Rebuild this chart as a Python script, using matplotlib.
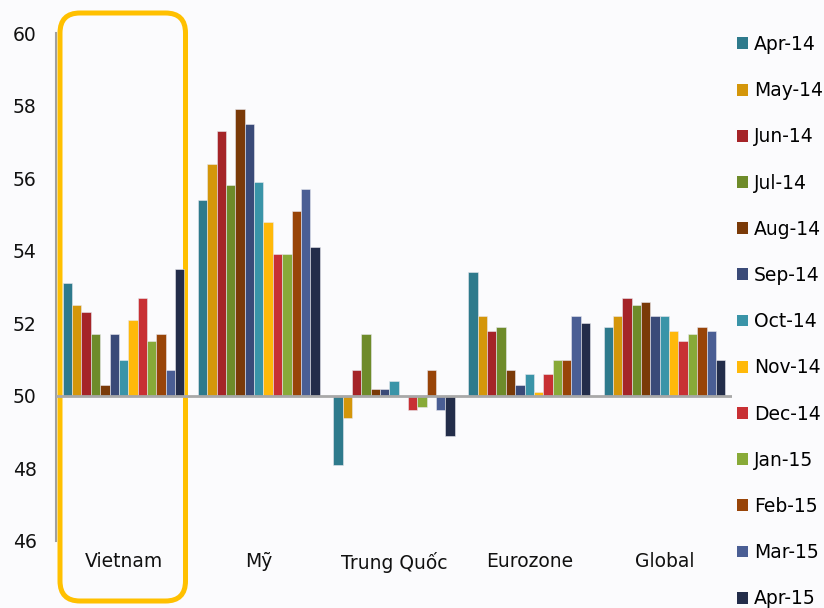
import matplotlib
matplotlib.use("Agg")
import matplotlib.pyplot as plt
from matplotlib.patches import FancyBboxPatch, Patch
import numpy as np

plt.rcParams['font.family'] = ['DejaVu Sans']

regions = ["Vietnam", "Mỹ", "Trung Quốc", "Eurozone", "Global"]
months = ["Apr-14", "May-14", "Jun-14", "Jul-14", "Aug-14", "Sep-14", "Oct-14",
          "Nov-14", "Dec-14", "Jan-15", "Feb-15", "Mar-15", "Apr-15"]

# PMI per region, one list per month
pmi_vietnam = [53.1, 52.5, 52.3, 51.7, 50.3, 51.7, 51.0, 52.1, 52.7, 51.5, 51.7, 50.7, 53.5]
pmi_us = [55.4, 56.4, 57.3, 55.8, 57.9, 57.5, 55.9, 54.8, 53.9, 53.9, 55.1, 55.7, 54.1]
pmi_china = [48.1, 49.4, 50.7, 51.7, 50.2, 50.2, 50.4, 50.0, 49.6, 49.7, 50.7, 49.6, 48.9]
pmi_eurozone = [53.4, 52.2, 51.8, 51.9, 50.7, 50.3, 50.6, 50.1, 50.6, 51.0, 51.0, 52.2, 52.0]
pmi_global = [51.9, 52.2, 52.7, 52.5, 52.6, 52.2, 52.2, 51.8, 51.5, 51.7, 51.9, 51.8, 51.0]

y_ticks = [46, 48, 50, 52, 54, 56, 58, 60]
baseline = 50

colors = ["#2E7A8C", "#D4960A", "#A52428", "#6E8B2A", "#7A3A08", "#3A4A78",
          "#3A94A8", "#FFB90A", "#C83034", "#88AA38", "#984408", "#4A5E94",
          "#232D4A"]

W, H = 824, 608
bg = "#FBFBFD"
fs = 13.5
fig = plt.figure(figsize=(W / 100, H / 100), dpi=100, facecolor=bg)

# highlight frame around the Vietnam group (drawn underneath the chart axes)
ov = fig.add_axes([0, 0, 1, 1], facecolor="none", zorder=0)
ov.set_xlim(0, W)
ov.set_ylim(H, 0)
ov.axis("off")
box = FancyBboxPatch((60, 13), 125.5, 588, boxstyle="round,pad=0,rounding_size=20",
                     fill=False, edgecolor="#FFC000", linewidth=3.6)
ov.add_patch(box)

ax = fig.add_axes([56 / W, 1 - 541 / H, 676 / W, 508 / H], facecolor="none", zorder=1)

data = np.array([pmi_vietnam, pmi_us, pmi_china, pmi_eurozone, pmi_global])
x = np.arange(len(regions))
n = len(months)
bw = 0.9 / n
for i, m in enumerate(months):
    vals = data[:, i]
    ax.bar(x - 0.45 + bw * (i + 0.5), vals - baseline, bottom=baseline, width=bw,
           color=colors[i], edgecolor="#E8E8EE", linewidth=0.4, label=m, zorder=2)

ax.axhline(baseline, color="#A8A8A8", lw=2, zorder=3)
ax.set_xlim(-0.5, len(regions) - 0.5)
ax.set_ylim(46, 60)
ax.set_yticks(y_ticks)
ax.set_xticks(x)
ax.set_xticklabels(regions)
ax.tick_params(axis='y', length=0, pad=14, labelsize=fs, labelcolor="#111111")
ax.tick_params(axis='x', length=0, pad=8, labelsize=fs, labelcolor="#111111")
for s in ["top", "right", "bottom"]:
    ax.spines[s].set_visible(False)
ax.spines["left"].set_color("#A0A0A0")
ax.spines["left"].set_linewidth(1.5)

handles = [Patch(facecolor=c, edgecolor="none") for c in colors]
fig.legend(handles, months, loc="upper left", bbox_to_anchor=(737 / W, 1 - 35 / H),
           frameon=False, fontsize=fs, handlelength=0.6, handleheight=0.6,
           handletextpad=0.3, labelspacing=1.45, borderaxespad=0, borderpad=0)

fig.savefig("out.png", dpi=100, facecolor=bg)
